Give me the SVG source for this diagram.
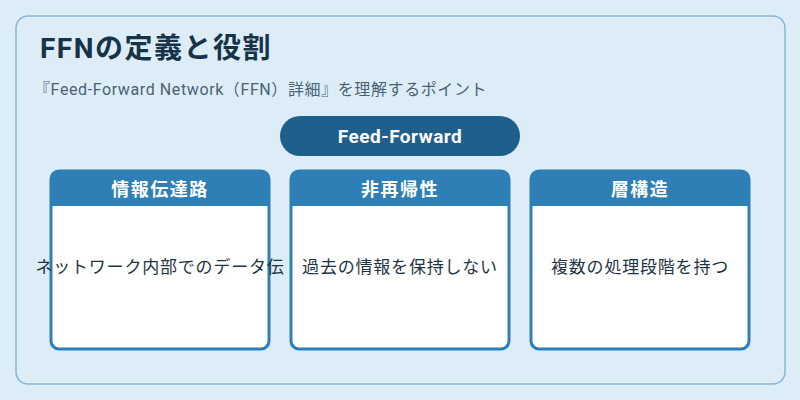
<svg xmlns="http://www.w3.org/2000/svg" width="800" height="400" viewBox="0 0 800 400">
<style>
text{font-family:Roboto,"Noto Sans CJK JP","Noto Sans",sans-serif}
.card{fill:#fff;stroke:#2e7fb5;stroke-width:3}
.hd{fill:#2e7fb5}
.ht{fill:#fff;font-size:18px;font-weight:bold;text-anchor:middle;letter-spacing:1.5px}
.bt{fill:#1f3442;font-size:17px;text-anchor:middle;letter-spacing:0.8px}
</style>
<rect x="0" y="0" width="800" height="400" fill="#ddedf7"/>
<rect x="16" y="16" width="769" height="368" rx="12" fill="#ddedf7" stroke="#86b6d9" stroke-width="1.5"/>
<text x="40" y="58" font-size="28" font-weight="bold" fill="#173349" letter-spacing="1.5">FFNの定義と役割</text>
<text x="34" y="95" font-size="16" fill="#4b6275" letter-spacing="0.6">『Feed-Forward Network（FFN）詳細』を理解するポイント</text>
<g id="top"><rect x="280" y="116" width="240" height="40" rx="20" fill="#1f5f8e"/><text x="400" y="143" font-size="19" font-weight="bold" fill="#fff" text-anchor="middle" letter-spacing="0.5">Feed-Forward</text></g>
<g id="connectors"/>
<g id="n1"><rect class="card" x="51" y="171" width="218" height="178" rx="8"/><path class="hd" d="M51 206V179a8 8 0 0 1 8-8h202a8 8 0 0 1 8 8v27z"/><text class="ht" x="160" y="196">情報伝達路</text><text class="bt" x="160" y="273">ネットワーク内部でのデータ伝</text></g>
<g id="n2"><rect class="card" x="291" y="171" width="218" height="178" rx="8"/><path class="hd" d="M291 206V179a8 8 0 0 1 8-8h202a8 8 0 0 1 8 8v27z"/><text class="ht" x="400" y="196">非再帰性</text><text class="bt" x="400" y="273">過去の情報を保持しない</text></g>
<g id="n3"><rect class="card" x="531" y="171" width="218" height="178" rx="8"/><path class="hd" d="M531 206V179a8 8 0 0 1 8-8h202a8 8 0 0 1 8 8v27z"/><text class="ht" x="640" y="196">層構造</text><text class="bt" x="640" y="273">複数の処理段階を持つ</text></g>
</svg>
